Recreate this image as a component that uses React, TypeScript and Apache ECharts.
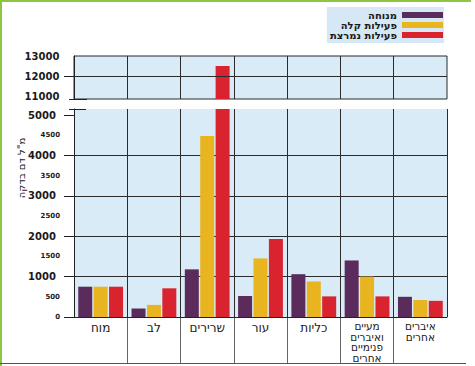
import React, { useEffect, useRef } from "react";
import * as echarts from "echarts";

const categories = [
  "מוח",
  "לב",
  "שרירים",
  "עור",
  "כליות",
  "מעיים\nואיברים\nפנימיים\nאחרים",
  "איברים\nאחרים",
];
const seriesNames = ["מנוחה", "פעילות קלה", "פעילות נמרצת"];
const rest = [750, 210, 1180, 520, 1060, 1400, 500];
const light = [750, 300, 4480, 1450, 880, 1000, 420];
const vigorous = [750, 710, 12500, 1930, 510, 510, 400];
const seriesValues = [rest, light, vigorous];
const colors = ["#5b2b5c", "#e8b41f", "#d9232e"];

const lowerTicks = [0, 1000, 2000, 3000, 4000, 5000];
const lowerLabels = [0, 500, 1000, 1500, 2000, 2500, 3000, 3500, 4000, 4500, 5000];
const upperLabels = [11000, 12000, 13000];
const upperGridLines = [12000];
const yName = "מ\"ל דם בדקה";

const HEB = "'DejaVu Sans', sans-serif";
const NUM = "'DejaVu Sans', sans-serif";

const L = 74;
const W = 373;
const TOP_T = 56;
const TOP_H = 43;
const BOT_T = 109;
const BOT_H = 208;
const LAB_H = 46;

export default function App() {
  const ref = useRef<HTMLDivElement>(null);
  useEffect(() => {
    if (!ref.current) return;
    const chart = echarts.init(ref.current, null, { renderer: "svg" });
    const labelRich = {
      b: { fontSize: 10, fontWeight: "bold", fontFamily: NUM, color: "#1a1a1a", width: 36, align: "center" },
      s: { fontSize: 7, fontWeight: "bold", fontFamily: NUM, color: "#1a1a1a", align: "right" },
    };
    const fmt = (v: number) => (v % 1000 === 0 && v !== 0 ? `{b|${v}}` : `{s|${v}}`);
    const catFmt = (v: string) =>
      v.indexOf("\n") >= 0
        ? v.split("\n").map((l) => `{m|${l}}`).join("\n")
        : `{l|${v}}`;
    const series: any[] = [];
    seriesValues.forEach((vals, i) => {
      [0, 1].forEach((g) => {
        series.push({
          type: "bar",
          name: seriesNames[i],
          xAxisIndex: g,
          yAxisIndex: g,
          data: vals,
          barWidth: 14,
          barGap: "10%",
          clip: true,
          itemStyle: { color: colors[i] },
          ...(g === 0 && i === 2
            ? {
                markLine: {
                  silent: true,
                  symbol: "none",
                  label: { show: false },
                  lineStyle: { color: "#2b2b2b", type: "solid", width: 1 },
                  data: upperGridLines.map((v) => ({ yAxis: v })),
                },
              }
            : {}),
        });
      });
    });
    chart.setOption({
      animation: false,
      backgroundColor: "#ffffff",
      legend: {
        orient: "vertical",
        right: 31,
        top: 7,
        align: "right",
        icon: "rect",
        itemWidth: 41,
        itemHeight: 6,
        itemGap: 0,
        padding: [3, 1, 3, 3],
        backgroundColor: "#d6e8f5",
        data: seriesNames,
        textStyle: { fontFamily: NUM, fontSize: 10, fontWeight: "bold", color: "#1a1a1a", lineHeight: 9 },
      },
      grid: [
        { left: L, width: W, top: TOP_T, height: TOP_H, show: true, backgroundColor: "#d8ebf6", borderColor: "#2b2b2b", borderWidth: 1 },
        { left: L, width: W, top: BOT_T, height: BOT_H, show: true, backgroundColor: "#d8ebf6", borderWidth: 0 },
        { left: L, width: W, top: BOT_T + BOT_H, height: LAB_H },
      ],
      xAxis: [
        {
          type: "category",
          gridIndex: 0,
          data: categories,
          axisLine: { show: false },
          axisTick: { show: false },
          axisLabel: { show: false },
          splitLine: { show: true, showMinLine: false, showMaxLine: false, lineStyle: { color: "#2b2b2b", width: 1 } },
        },
        {
          type: "category",
          gridIndex: 1,
          data: categories,
          axisLine: { show: true, lineStyle: { color: "#222", width: 1 } },
          axisTick: { show: false },
          axisLabel: {
            interval: 0,
            margin: 4,
            formatter: catFmt,
            rich: {
              l: { fontFamily: HEB, fontSize: 12, lineHeight: 13, color: "#1a1a1a" },
              m: { fontFamily: HEB, fontSize: 10.5, lineHeight: 10.5, color: "#1a1a1a" },
            },
          },
          splitLine: { show: true, showMinLine: false, showMaxLine: true, lineStyle: { color: "#2b2b2b", width: 1 } },
        },
        {
          type: "category",
          gridIndex: 2,
          data: categories,
          axisLine: { show: false },
          axisTick: { show: false },
          axisLabel: { show: false },
          splitLine: { show: true, showMinLine: false, showMaxLine: false, lineStyle: { color: "#666", width: 1 } },
        },
      ],
      yAxis: [
        {
          type: "value",
          gridIndex: 0,
          min: 10850,
          max: 13000,
          axisLine: { show: true, lineStyle: { color: "#222" } },
          axisTick: { show: true, length: 10, customValues: upperGridLines, lineStyle: { color: "#222" } },
          axisLabel: { customValues: upperLabels, margin: 14, formatter: fmt, rich: labelRich },
          splitLine: { show: false },
        },
        {
          type: "value",
          gridIndex: 1,
          min: 0,
          max: 5150,
          interval: 1000,
          axisLine: { show: true, lineStyle: { color: "#222" } },
          axisTick: { show: true, length: 10, customValues: lowerTicks, lineStyle: { color: "#222" } },
          axisLabel: { customValues: lowerLabels, margin: 14, formatter: fmt, rich: labelRich },
          splitLine: { show: true, showMinLine: false, showMaxLine: false, lineStyle: { color: "#2b2b2b", width: 1 } },
        },
        { type: "value", gridIndex: 2, min: 0, max: 1, show: false },
      ],
      series,
      graphic: [
        { type: "polyline", silent: true, shape: { points: [[1, 366], [1, 1], [471, 1]] }, style: { stroke: "#8dc63f", lineWidth: 2, fill: "none" } },
        { type: "line", silent: true, shape: { x1: 0, y1: 363.5, x2: 466, y2: 363.5 }, style: { stroke: "#555", lineWidth: 1 } },
        { type: "line", silent: true, shape: { x1: 69, y1: TOP_T + TOP_H + 0.5, x2: 87, y2: TOP_T + TOP_H + 0.5 }, style: { stroke: "#222", lineWidth: 1 } },
        { type: "line", silent: true, shape: { x1: 69, y1: BOT_T + 0.5, x2: 86, y2: BOT_T + 0.5 }, style: { stroke: "#222", lineWidth: 1 } },
        {
          type: "text",
          silent: true,
          x: 21,
          y: 168,
          rotation: Math.PI / 2,
          style: { text: yName, fontFamily: HEB, fontSize: 10, fill: "#1a1a1a", align: "center", verticalAlign: "middle" },
        },
      ],
    });
    return () => chart.dispose();
  }, []);
  return (
    <div
      ref={ref}
      style={{ position: "fixed", left: 0, top: 0, width: 475, height: 366, background: "#fff" }}
    />
  );
}
